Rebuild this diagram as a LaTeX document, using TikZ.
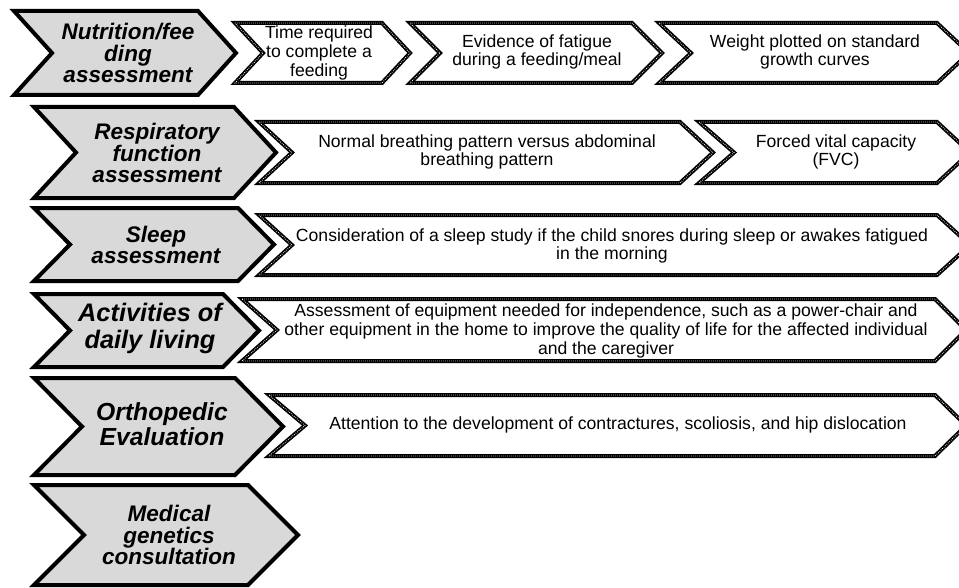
\documentclass[tikz,border=0pt]{standalone}
\usepackage{fontspec}
\setmainfont{Liberation Sans}
\definecolor{chevgray}{RGB}{217,217,217}
\tikzset{
 leftchev/.style={draw=black,line width=3pt,fill=chevgray,line join=miter},
 rightchev/.style={draw=black,line width=3pt,fill=white,line join=miter},
 rightdots/.style={draw=white,line width=0.7pt,dash pattern=on 0.45pt off 1.05pt},
 headtext/.style={align=center,inner sep=0pt,font=\fontsize{16.9pt}{16.2pt}\selectfont\bfseries\itshape},
 headbig/.style={align=center,inner sep=0pt,font=\fontsize{19pt}{20.25pt}\selectfont\bfseries\itshape},
 headmid/.style={align=center,inner sep=0pt,font=\fontsize{18.5pt}{18.75pt}\selectfont\bfseries\itshape},
 bodytext/.style={align=center,inner sep=0pt,font=\fontsize{13.2pt}{14pt}\selectfont},
}
\newcommand{\myrbox}[1]{\draw[rightchev] #1 -- cycle; \draw[rightdots] #1 -- cycle;}
\begin{document}
\begin{tikzpicture}[x=0.75pt,y=-0.75pt]
\useasboundingbox (0,0) rectangle (959,588);
\clip (0,0) rectangle (959,588);
% left chevrons
\draw[leftchev] (14,11) -- (198,11) -- (236,53) -- (198,95) -- (14,95) -- (52,53) -- cycle;
\draw[leftchev] (34,107) -- (234,107) -- (276,152.5) -- (234,198) -- (34,198) -- (76,152.5) -- cycle;
\draw[leftchev] (34,208) -- (238,208) -- (274,244.5) -- (238,281) -- (34,281) -- (70,244.5) -- cycle;
\draw[leftchev] (34,294) -- (223,294) -- (259,330.5) -- (223,367) -- (34,367) -- (70,330.5) -- cycle;
\draw[leftchev] (34,378) -- (235,378) -- (283,426.5) -- (235,475) -- (34,475) -- (82,426.5) -- cycle;
\draw[leftchev] (34,485) -- (248,485) -- (298,535) -- (248,585) -- (34,585) -- (84,535) -- cycle;
% right boxes
\myrbox{(235,23) -- (382,23) -- (410,53) -- (382,83) -- (235,83) -- (263,53)}
\myrbox{(410,23) -- (632,23) -- (662,53) -- (632,83) -- (410,83) -- (440,53)}
\myrbox{(659,23) -- (937,23) -- (969,53) -- (937,83) -- (659,83) -- (691,53)}
\myrbox{(259,122) -- (680,122) -- (713,152.5) -- (680,183) -- (259,183) -- (292,152.5)}
\myrbox{(699,122) -- (937,122) -- (970,152.5) -- (937,183) -- (699,183) -- (734,152.5)}
\myrbox{(259,215) -- (937,215) -- (970,245) -- (937,275) -- (259,275) -- (292,245)}
\myrbox{(242,299) -- (935,299) -- (966,330) -- (935,361) -- (242,361) -- (277,330)}
\myrbox{(269,395) -- (935,395) -- (966,425.5) -- (935,456) -- (269,456) -- (305,425.5)}
% head texts
\node[headtext] (h1) at (128,53) {Nutrition/fee\\ding\\assessment};
\node[headtext] (h2) at (157,153) {Respiratory\\function\\assessment};
\node[headtext] (h3) at (156,245) {Sleep\\assessment};
\node[headbig] (h4) at (150,328) {Activities of\\daily living};
\node[headmid] (h5) at (162,424) {Orthopedic\\Evaluation};
\node[headtext] (h6) at (169,535) {Medical\\genetics\\consultation};
% body texts
\node[bodytext] (b11) at (319,53) {Time required\\to complete a\\feeding};
\node[bodytext] (b12) at (537,52) {Evidence of fatigue\\during a feeding/meal};
\node[bodytext] (b13) at (815,52) {Weight plotted on standard\\growth curves};
\node[bodytext] (b21) at (487,152) {Normal breathing pattern versus abdominal\\breathing pattern};
\node[bodytext] (b22) at (836,152) {Forced vital capacity\\(FVC)};
\node[bodytext] (b31) at (612,246) {Consideration of a sleep study if the child snores during sleep or awakes fatigued\\in the morning};
\node[bodytext] (b41) at (606,331) {Assessment of equipment needed for independence, such as a power-chair and\\other equipment in the home to improve the quality of life for the affected individual\\and the caregiver};
\node[bodytext] (b51) at (618,425) {Attention to the development of contractures, scoliosis, and hip dislocation};
\end{tikzpicture}
\end{document}
